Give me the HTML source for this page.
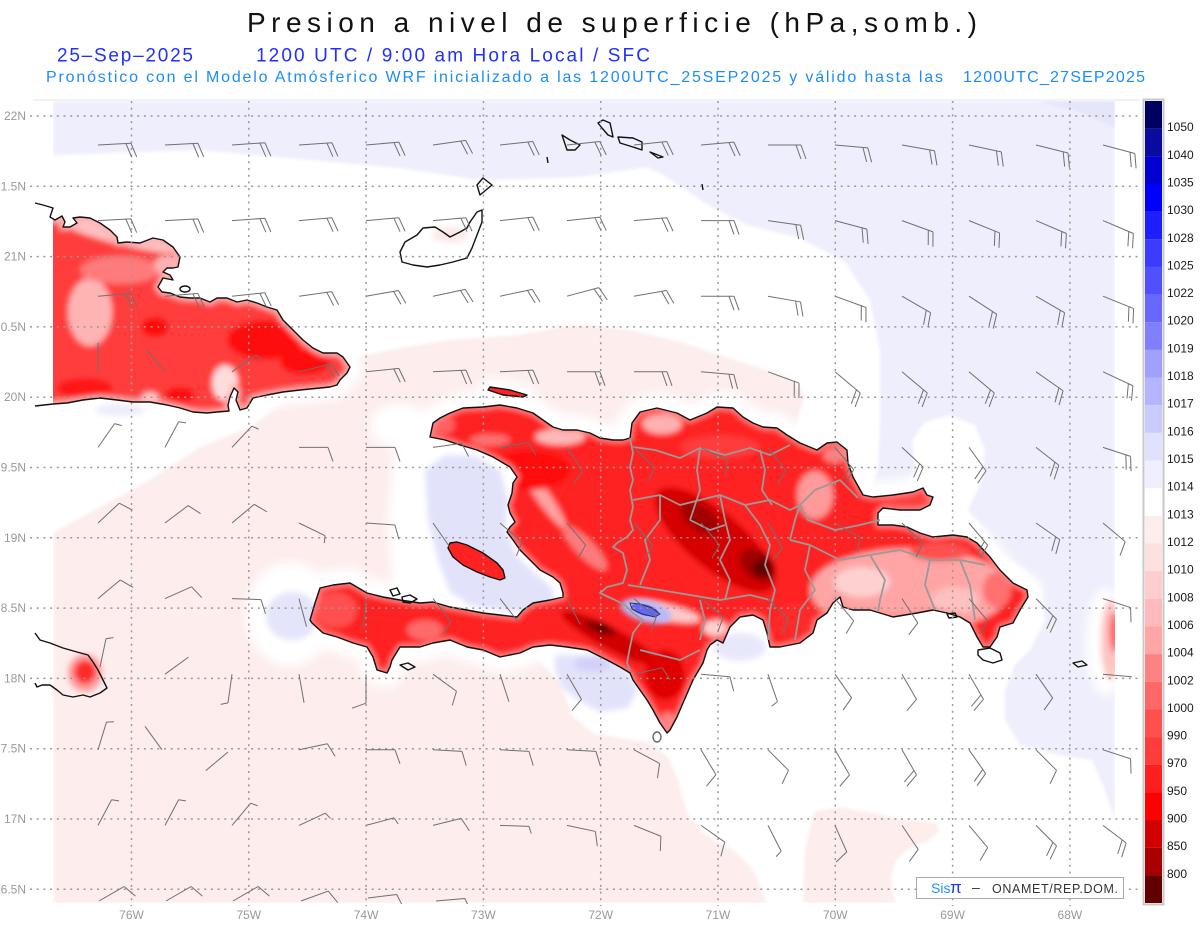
<!DOCTYPE html>
<html><head><meta charset="utf-8"><style>html,body{margin:0;padding:0;background:#fff}svg{display:block}</style></head>
<body>
<svg width="1200" height="927" viewBox="0 0 1200 927" xmlns="http://www.w3.org/2000/svg" xmlns:xlink="http://www.w3.org/1999/xlink" font-family="'Liberation Sans', sans-serif">
<defs>
<clipPath id="dc"><rect x="53" y="101" width="1062" height="802"/></clipPath>
<clipPath id="bc"><rect x="53" y="101" width="1092" height="803"/></clipPath>
<filter id="f1" filterUnits="userSpaceOnUse" x="0" y="0" width="1200" height="927"><feGaussianBlur stdDeviation="1.5"/></filter>
<filter id="f3" filterUnits="userSpaceOnUse" x="0" y="0" width="1200" height="927"><feGaussianBlur stdDeviation="3"/></filter>
<filter id="f5" filterUnits="userSpaceOnUse" x="0" y="0" width="1200" height="927"><feGaussianBlur stdDeviation="5"/></filter>
<path id="hisp" d="M430,437 L433,423 440,418 450,413 463,408 483,407 500,405 517,408 533,413 543,420 553,427 563,430 577,430 590,433 600,438 613,440 623,440 630,438 632,423 640,412 657,408 677,413 690,420 707,413 717,407 733,408 743,417 753,423 763,427 777,428 787,435 800,443 817,450 827,443 837,442 847,450 848,463 853,477 863,495 873,497 893,495 913,492 923,488 927,495 933,497 930,505 920,510 900,510 883,508 878,513 878,525 893,525 907,527 920,533 933,537 953,535 967,537 977,543 990,557 1000,570 1013,583 1027,590 1028,597 1020,610 1013,623 1000,627 997,637 990,647 983,647 977,637 970,623 960,617 947,613 933,610 917,613 893,617 880,613 870,610 853,610 843,607 840,597 833,603 827,613 817,620 813,633 800,643 780,647 770,647 767,633 763,620 753,615 740,617 730,627 723,643 717,640 710,645 707,650 703,663 693,680 683,703 677,717 670,730 667,733 660,723 653,710 647,700 640,690 633,680 630,673 620,667 607,660 587,650 567,647 550,645 533,647 520,653 500,657 483,650 467,647 450,640 433,643 420,647 407,647 400,647 392,660 390,667 387,673 377,670 373,657 367,647 353,643 337,637 323,633 312,623 310,620 315,603 320,588 333,585 350,583 367,593 383,597 400,600 420,603 433,602 450,607 467,610 483,613 500,615 517,617 523,610 533,603 550,600 563,597 563,593 560,583 553,577 540,570 530,560 520,550 513,540 507,532 510,527 515,522 510,513 508,505 512,493 513,483 517,477 510,467 493,457 477,450 460,445 445,440 Z"/>
<path id="gon" d="M450,543 L457,542 467,545 483,553 497,563 503,570 505,578 500,580 490,577 477,572 463,565 453,557 448,548 Z"/>
<path id="tor" d="M488,390 L490,387 510,390 527,395 523,397 503,395 Z"/>
<path id="cubaF" d="M30,203 L35,203 43,205 53,208 50,217 55,220 62,216 65,222 63,227 70,227 77,223 73,218 80,217 90,218 100,223 110,230 117,237 118,243 127,242 140,243 153,238 163,240 173,247 180,257 178,267 173,268 167,268 163,272 170,275 173,280 163,278 158,287 162,292 170,293 180,297 190,298 200,298 210,302 217,298 227,298 237,302 247,300 257,303 267,307 277,310 283,320 293,330 303,340 313,348 323,353 337,353 343,357 350,367 347,373 340,380 337,385 330,387 320,388 300,390 283,392 267,395 253,398 247,408 240,410 236,400 238,392 234,388 230,397 228,405 229,411 217,412 207,413 193,412 180,408 167,405 150,402 133,402 117,400 100,398 83,400 67,403 53,404 35,406 30,406 Z"/>
<path id="cubaS" d="M35,203 L43,205 53,208 50,217 55,220 62,216 65,222 63,227 70,227 77,223 73,218 80,217 90,218 100,223 110,230 117,237 118,243 127,242 140,243 153,238 163,240 173,247 180,257 178,267 173,268 167,268 163,272 170,275 173,280 163,278 158,287 162,292 170,293 180,297 190,298 200,298 210,302 217,298 227,298 237,302 247,300 257,303 267,307 277,310 283,320 293,330 303,340 313,348 323,353 337,353 343,357 350,367 347,373 340,380 337,385 330,387 320,388 300,390 283,392 267,395 253,398 247,408 240,410 236,400 238,392 234,388 230,397 228,405 229,411 217,412 207,413 193,412 180,408 167,405 150,402 133,402 117,400 100,398 83,400 67,403 53,404 35,406"/>
<clipPath id="hc"><use xlink:href="#hisp"/><use xlink:href="#gon"/><use xlink:href="#tor"/></clipPath>
<clipPath id="cc"><use xlink:href="#cubaF"/></clipPath>
<g id="L2" fill="none"><path d="M0,0H33M33,0l5,14M28,0l5,14"/></g>
<g id="S1" fill="none"><path d="M0,0H29M29,0l5,14"/></g>
<g id="S2" fill="none"><path d="M0,0H29M29,0l5,14M24,0l5,14"/></g>
<g id="SH" fill="none"><path d="M0,0H29M29,0l2.5,7"/></g>
<g id="S0" fill="none"><path d="M0,0H29"/></g>
</defs>

<rect width="1200" height="927" fill="#fff"/>

<!-- DATA FIELD -->
<g clip-path="url(#dc)">
<rect x="53" y="101" width="1062" height="802" fill="#fff"/>
<path filter="url(#f1)" fill="#eeeefc" d="M53,101 L1115,101 1115,820 1105,790 1092,760 1060,755 1020,745 1005,720 1005,690 1015,665 1030,650 1045,620 1040,590 1025,570 1000,555 985,530 968,510 982,480 985,450 975,425 950,415 925,422 912,440 915,470 905,490 870,488 878,470 880,420 880,350 870,300 845,262 800,238 747,225 713,208 663,175 647,167 580,177 480,180 400,168 333,162 200,150 53,155 Z"/>
<path filter="url(#f1)" fill="#e6e6fb" d="M1035,101 L1115,101 1115,128 1080,112 Z"/>
<path filter="url(#f1)" fill="#fdeded" d="M53,903 L53,533 100,507 150,480 200,447 250,427 290,397 330,370 360,356 400,348 450,340 520,335 560,327 590,325 630,330 680,342 720,355 760,368 790,378 805,395 790,445 700,500 600,540 575,610 537,658 560,683 573,717 593,733 620,738 653,743 670,760 680,787 687,813 703,833 737,853 753,870 767,903 Z"/>
<path filter="url(#f1)" fill="#fdeded" d="M803,903 L805,850 814,812 837,807 868,812 906,820 937,823 939,832 929,840 906,850 895,863 891,877 895,903 Z"/>

<!-- white halos -->
<g filter="url(#f5)" fill="#fff" stroke="#fff" stroke-linejoin="round">
<use xlink:href="#hisp" stroke-width="30"/>
<use xlink:href="#gon" stroke-width="22"/>
<use xlink:href="#tor" stroke-width="18"/>
<use xlink:href="#cubaF" stroke-width="26"/>
<ellipse cx="400" cy="426" rx="30" ry="22" stroke="none"/>
<ellipse cx="290" cy="614" rx="44" ry="52" stroke="none"/>
<path stroke="none" d="M395,445 L430,438 470,446 500,458 515,500 520,548 560,582 575,605 530,628 470,624 420,617 393,590 388,520 Z"/>
<ellipse cx="1106" cy="642" rx="20" ry="54" stroke="none"/>
</g>
<!-- pale blue patches -->
<g filter="url(#f3)">
<path fill="#e2e2fb" d="M425,470 L445,455 475,456 500,470 508,500 505,530 518,558 552,588 556,606 520,612 472,606 450,592 438,560 428,520 Z"/>
<path fill="#e2e2fb" d="M555,655 L600,655 625,668 638,690 628,708 600,712 578,700 562,688 555,670 Z"/>
<ellipse cx="592" cy="664" rx="18" ry="8" fill="#d2d2f8"/>
<ellipse cx="292" cy="616" rx="26" ry="24" fill="#e4e4fb"/>
<ellipse cx="120" cy="410" rx="25" ry="6" fill="#ececfc"/>
<ellipse cx="740" cy="647" rx="26" ry="14" fill="#e8e8fb"/>
<ellipse cx="682" cy="620" rx="26" ry="9" fill="#dedefb"/>
</g>
<!-- right edge blob -->
<g filter="url(#f3)">
<ellipse cx="1111" cy="640" rx="10" ry="40" fill="#ffc4c4"/>
<ellipse cx="1114" cy="632" rx="5" ry="20" fill="#ff6a6a"/>
</g>

<!-- Hispaniola fill -->
<g clip-path="url(#hc)"><g filter="url(#f3)">
<rect x="300" y="380" width="740" height="370" fill="#ff2424"/>
<ellipse cx="440" cy="425" rx="15" ry="10" fill="#ff6060"/>
<ellipse cx="560" cy="437" rx="25" ry="8" fill="#ffb8b8"/>
<ellipse cx="490" cy="440" rx="20" ry="6" fill="#ff7070"/>
<ellipse cx="540" cy="492" rx="45" ry="7" transform="rotate(55 540 492)" fill="#ffa0a0"/>
<ellipse cx="585" cy="548" rx="30" ry="9" transform="rotate(45 585 548)" fill="#ff7a7a"/>
<ellipse cx="335" cy="610" rx="22" ry="18" fill="#ff5050"/>
<ellipse cx="425" cy="630" rx="18" ry="10" fill="#ff6a6a"/>
<ellipse cx="530" cy="470" rx="40" ry="20" fill="#ff1010"/>
<ellipse cx="610" cy="638" rx="55" ry="11" transform="rotate(28 610 638)" fill="#d00000"/>
<ellipse cx="600" cy="628" rx="16" ry="6" transform="rotate(20 600 628)" fill="#8a0000"/>
<ellipse cx="603" cy="628" rx="6" ry="3.5" fill="#5a0000"/>
<ellipse cx="665" cy="675" rx="20" ry="25" fill="#e00000"/>
<ellipse cx="668" cy="722" rx="8" ry="10" fill="#ff8080"/>
<ellipse cx="662" cy="424" rx="20" ry="10" fill="#ffb0b0"/>
<ellipse cx="720" cy="447" rx="40" ry="12" fill="#ff3a3a"/>
<ellipse cx="715" cy="540" rx="75" ry="28" transform="rotate(40 715 540)" fill="#d60000"/>
<ellipse cx="700" cy="518" rx="22" ry="12" transform="rotate(35 700 518)" fill="#a00000"/>
<ellipse cx="758" cy="565" rx="20" ry="14" transform="rotate(40 758 565)" fill="#a00000"/>
<ellipse cx="762" cy="568" rx="9" ry="9" fill="#600000"/>
<ellipse cx="665" cy="612" rx="36" ry="8" transform="rotate(12 665 612)" fill="#ffc8c8"/>
<ellipse cx="715" cy="628" rx="12" ry="8" fill="#ffd0d0"/>
<ellipse cx="815" cy="495" rx="18" ry="24" fill="#ff9a9a"/>
<ellipse cx="835" cy="455" rx="12" ry="8" fill="#ff8080"/>
<ellipse cx="910" cy="590" rx="100" ry="42" fill="#ffa5a5"/>
<ellipse cx="862" cy="582" rx="28" ry="15" fill="#ffd0d0"/>
<ellipse cx="955" cy="600" rx="24" ry="13" fill="#ffc0c0"/>
<ellipse cx="940" cy="552" rx="30" ry="9" fill="#ff5050"/>
<ellipse cx="997" cy="590" rx="14" ry="18" fill="#ff7070"/>
<ellipse cx="905" cy="502" rx="25" ry="8" fill="#ff4040"/>
<ellipse cx="800" cy="622" rx="25" ry="20" fill="#ff2a2a"/>
<use xlink:href="#hisp" fill="none" stroke="#ff9090" stroke-width="4"/>
</g></g>
<!-- Cuba fill -->
<g clip-path="url(#cc)"><g filter="url(#f3)">
<rect x="30" y="200" width="330" height="220" fill="#ff3c3c"/>
<ellipse cx="115" cy="232" rx="70" ry="11" transform="rotate(15 115 232)" fill="#ffc0c0"/>
<ellipse cx="90" cy="312" rx="22" ry="34" fill="#ffb4b4"/>
<ellipse cx="120" cy="270" rx="40" ry="14" fill="#ff7a7a"/>
<ellipse cx="168" cy="265" rx="14" ry="10" fill="#ffb0b0"/>
<ellipse cx="225" cy="383" rx="13" ry="18" fill="#ffdcdc"/>
<ellipse cx="155" cy="327" rx="14" ry="10" fill="#ff1010"/>
<ellipse cx="265" cy="340" rx="38" ry="20" fill="#ff1010"/>
<ellipse cx="305" cy="362" rx="25" ry="13" fill="#ff0a0a"/>
<ellipse cx="85" cy="388" rx="28" ry="10" fill="#ff1414"/>
<ellipse cx="180" cy="395" rx="15" ry="8" fill="#ff1010"/>
<ellipse cx="150" cy="398" rx="9" ry="6" fill="#ffc8c8"/>
<use xlink:href="#cubaS" fill="none" stroke="#ffb0b0" stroke-width="6"/>
</g></g>
<!-- Jamaica blob -->
<g filter="url(#f3)">
<ellipse cx="85" cy="673" rx="17" ry="19" fill="#ff9c9c"/>
<ellipse cx="85" cy="672" rx="11" ry="12" fill="#ff2a2a"/>
<ellipse cx="450" cy="235" rx="18" ry="8" fill="#fde8e8"/>
</g>
<!-- lake -->
<ellipse cx="646" cy="611" rx="26" ry="11" transform="rotate(15 646 611)" fill="#b8b8fb" filter="url(#f3)"/>
<ellipse cx="645" cy="610" rx="14" ry="5.5" transform="rotate(15 645 610)" fill="#6464ff"/>
</g>

<!-- coastlines -->
<g fill="none" stroke="#111" stroke-width="1.4" stroke-linejoin="round">
<use xlink:href="#hisp"/>
<use xlink:href="#gon"/>
<use xlink:href="#tor"/>
<use xlink:href="#cubaS"/>
<ellipse cx="185" cy="289" rx="5" ry="3"/>
<path d="M35,633 L40,640 50,643 63,648 77,652 88,655 93,662 98,670 103,680 107,688 100,693 90,697 83,695 73,697 63,695 57,690 50,685 42,685 37,687 35,683"/>
<path d="M402,262 L400,252 405,242 417,235 423,228 435,227 443,232 450,237 460,232 467,228 470,222 477,212 482,210 482,222 477,235 472,248 467,258 453,262 440,265 427,267 413,265 Z"/>
<path d="M477,185 L483,178 492,185 480,195 Z"/>
<path d="M562,135 L567,150 575,150 580,145 570,140 Z"/>
<path d="M598,123 L603,120 610,123 612,132 613,137 608,135 602,128 Z"/>
<path d="M618,137 L633,138 642,142 642,150 633,147 620,143 Z"/>
<path d="M650,152 L663,157 658,158 Z"/>
<path d="M547,157 L548,163"/><path d="M702,184 L703,190"/>
<path d="M978,650 L990,648 1000,653 1002,660 993,663 983,660 978,655 Z"/>
<path d="M1073,663 L1082,661 1087,665 1078,667 Z"/>
<path d="M390,590 L397,588 400,594 393,596 Z"/>
<path d="M402,597 L410,595 417,599 410,603 403,602 Z"/>
<path d="M400,665 L408,663 415,667 408,670 Z"/>
<path d="M947,614 L955,613 957,617 949,618 Z"/>
<path d="M630,603 L640,604 652,608 660,614 655,617 642,614 632,609 Z" stroke="#333" stroke-width="1"/>
</g>
<ellipse cx="657" cy="737" rx="4" ry="5" fill="none" stroke="#666" stroke-width="1.4"/>

<!-- borders -->
<g fill="none" stroke="#9a9a9a" stroke-width="1.8" stroke-linejoin="round">
<path d="M630,438 L633,453 630,467 633,480 630,490 633,507 630,520 633,530 627,537 617,543 613,547 623,553 627,570 623,583 607,587 600,593 615,600 625,605 633,613 643,620 633,633 630,647 627,663 630,670"/>
<path d="M633,447 L655,450 680,458 700,448 725,455 750,448 770,455 790,445"/>
<path d="M700,448 L697,470 700,490 695,505 690,520"/>
<path d="M760,450 L765,470 762,490 772,505"/>
<path d="M633,500 L660,495 680,505 700,500 720,495 745,505 770,500 790,510 800,505"/>
<path d="M660,495 L660,520 645,540 650,560 640,585"/>
<path d="M720,495 L725,520 730,540 720,560 730,580 725,600"/>
<path d="M690,520 L710,530 725,525"/>
<path d="M745,505 L760,525 770,545 765,565 775,590 770,610 768,640"/>
<path d="M628,585 L660,590 690,595 720,600 750,595 770,600"/>
<path d="M800,505 L808,520 835,530 860,525 880,520"/>
<path d="M800,505 L815,490 840,480 858,498"/>
<path d="M790,540 L810,545 840,560 870,555 900,550 930,560 960,560 985,565"/>
<path d="M810,545 L805,570 815,590 800,610 795,640"/>
<path d="M870,555 L885,580 880,600 878,612"/>
<path d="M930,560 L925,585 935,610"/>
<path d="M960,560 L970,585 975,620"/>
<path d="M790,540 L795,520 800,505"/>
<path d="M640,650 L660,655 680,660 700,650"/>
<path d="M700,600 L705,620 700,640"/>
</g>

<!-- grid -->
<line x1="33" y1="100" x2="1140" y2="100" stroke="#e6e6e6" stroke-width="1"/>
<path fill="none" stroke="#999" stroke-width="1.5" stroke-dasharray="2 4.7" d="M30,116H1140M30,186.3H1140M30,256.6H1140M30,326.9H1140M30,397.2H1140M30,467.5H1140M30,537.8H1140M30,608.1H1140M30,678.4H1140M30,748.7H1140M30,819H1140M30,889.3H1140"/>
<path fill="none" stroke="#999" stroke-width="1.5" stroke-dasharray="2 4.7" d="M131.5,101V906M248.8,101V906M366.1,101V906M483.4,101V906M600.7,101V906M718,101V906M835.3,101V906M952.6,101V906M1069.9,101V906"/>

<!-- wind barbs -->
<g clip-path="url(#bc)" stroke="#707070" stroke-width="1" fill="none">
<use xlink:href="#L2" transform="translate(98 145)rotate(-3)"/><use xlink:href="#L2" transform="translate(165 145)rotate(-3)"/><use xlink:href="#L2" transform="translate(232 145)rotate(-4)"/><use xlink:href="#L2" transform="translate(299 145)rotate(-4)"/><use xlink:href="#L2" transform="translate(366 145)rotate(-5)"/><use xlink:href="#L2" transform="translate(433 145)rotate(-8)"/><use xlink:href="#L2" transform="translate(500 145)rotate(-6)"/><use xlink:href="#L2" transform="translate(567 145)rotate(-6)"/><use xlink:href="#L2" transform="translate(634 145)rotate(-6)"/><use xlink:href="#L2" transform="translate(701 145)rotate(-5)"/><use xlink:href="#L2" transform="translate(768 145)rotate(0)"/><use xlink:href="#L2" transform="translate(835 145)rotate(5)"/><use xlink:href="#L2" transform="translate(902 145)rotate(10)"/><use xlink:href="#L2" transform="translate(969 145)rotate(12)"/><use xlink:href="#L2" transform="translate(1036 145)rotate(14)"/><use xlink:href="#L2" transform="translate(1103 145)rotate(15)"/>
<use xlink:href="#L2" transform="translate(98 220.6)rotate(-3)"/><use xlink:href="#L2" transform="translate(165 220.6)rotate(-3)"/><use xlink:href="#L2" transform="translate(232 220.6)rotate(-4)"/><use xlink:href="#L2" transform="translate(299 220.6)rotate(-5)"/><use xlink:href="#L2" transform="translate(366 220.6)rotate(-5)"/><use xlink:href="#L2" transform="translate(433 220.6)rotate(-5)"/><use xlink:href="#L2" transform="translate(500 220.6)rotate(-6)"/><use xlink:href="#L2" transform="translate(567 220.6)rotate(-6)"/><use xlink:href="#L2" transform="translate(634 220.6)rotate(-5)"/><use xlink:href="#L2" transform="translate(701 220.6)rotate(0)"/><use xlink:href="#L2" transform="translate(768 220.6)rotate(8)"/><use xlink:href="#L2" transform="translate(835 220.6)rotate(15)"/><use xlink:href="#L2" transform="translate(902 220.6)rotate(20)"/><use xlink:href="#L2" transform="translate(969 220.6)rotate(22)"/><use xlink:href="#L2" transform="translate(1036 220.6)rotate(23)"/><use xlink:href="#L2" transform="translate(1103 220.6)rotate(23)"/>
<use xlink:href="#L2" transform="translate(98 296.2)rotate(-5)"/><use xlink:href="#L2" transform="translate(165 296.2)rotate(-5)"/><use xlink:href="#L2" transform="translate(232 296.2)rotate(-6)"/><use xlink:href="#L2" transform="translate(299 296.2)rotate(-8)"/><use xlink:href="#L2" transform="translate(366 296.2)rotate(-10)"/><use xlink:href="#L2" transform="translate(433 296.2)rotate(-12)"/><use xlink:href="#L2" transform="translate(500 296.2)rotate(-12)"/><use xlink:href="#L2" transform="translate(567 296.2)rotate(-15)"/><use xlink:href="#L2" transform="translate(634 296.2)rotate(-10)"/><use xlink:href="#L2" transform="translate(701 296.2)rotate(0)"/><use xlink:href="#L2" transform="translate(768 296.2)rotate(10)"/><use xlink:href="#L2" transform="translate(835 296.2)rotate(20)"/><use xlink:href="#L2" transform="translate(902 296.2)rotate(30)"/><use xlink:href="#L2" transform="translate(969 296.2)rotate(33)"/><use xlink:href="#L2" transform="translate(1036 296.2)rotate(30)"/><use xlink:href="#L2" transform="translate(1103 296.2)rotate(22)"/>
<use xlink:href="#S0" transform="translate(98 371.8)rotate(-90)"/><use xlink:href="#S0" transform="translate(165 371.8)rotate(-130)"/><use xlink:href="#SH" transform="translate(232 371.8)rotate(-35)"/><use xlink:href="#L2" transform="translate(299 371.8)rotate(-14)"/><use xlink:href="#L2" transform="translate(366 371.8)rotate(-6)"/><use xlink:href="#L2" transform="translate(433 371.8)rotate(-3)"/><use xlink:href="#L2" transform="translate(500 371.8)rotate(-3)"/><use xlink:href="#L2" transform="translate(567 371.8)rotate(0)"/><use xlink:href="#L2" transform="translate(634 371.8)rotate(0)"/><use xlink:href="#L2" transform="translate(701 371.8)rotate(5)"/><use xlink:href="#L2" transform="translate(768 371.8)rotate(20)"/><use xlink:href="#L2" transform="translate(835 371.8)rotate(40)"/><use xlink:href="#L2" transform="translate(902 371.8)rotate(40)"/><use xlink:href="#L2" transform="translate(969 371.8)rotate(40)"/><use xlink:href="#L2" transform="translate(1036 371.8)rotate(35)"/><use xlink:href="#L2" transform="translate(1103 371.8)rotate(25)"/>
<use xlink:href="#SH" transform="translate(98 447.4)rotate(-55)"/><use xlink:href="#SH" transform="translate(165 447.4)rotate(-62)"/><use xlink:href="#SH" transform="translate(232 447.4)rotate(-47)"/><use xlink:href="#S1" transform="translate(299 447.4)rotate(0)"/><use xlink:href="#S1" transform="translate(366 447.4)rotate(0)"/><use xlink:href="#S1" transform="translate(433 447.4)rotate(-8)"/><use xlink:href="#S1" transform="translate(500 447.4)rotate(-10)"/><use xlink:href="#S1" transform="translate(567 447.4)rotate(57)"/><use xlink:href="#S1" transform="translate(634 447.4)rotate(45)"/><use xlink:href="#S1" transform="translate(701 447.4)rotate(26)"/><use xlink:href="#S1" transform="translate(768 447.4)rotate(52)"/><use xlink:href="#S2" transform="translate(835 447.4)rotate(50)"/><use xlink:href="#S2" transform="translate(902 447.4)rotate(43)"/><use xlink:href="#S2" transform="translate(969 447.4)rotate(54)"/><use xlink:href="#S2" transform="translate(1036 447.4)rotate(38)"/><use xlink:href="#S2" transform="translate(1103 447.4)rotate(18)"/>
<use xlink:href="#S1" transform="translate(98 523)rotate(-43)"/><use xlink:href="#S1" transform="translate(165 523)rotate(-37)"/><use xlink:href="#S1" transform="translate(232 523)rotate(-40)"/><use xlink:href="#SH" transform="translate(299 523)rotate(26)"/><use xlink:href="#S1" transform="translate(366 523)rotate(4)"/><use xlink:href="#S0" transform="translate(433 523)rotate(55)"/><use xlink:href="#S1" transform="translate(500 523)rotate(41)"/><use xlink:href="#S1" transform="translate(567 523)rotate(50)"/><use xlink:href="#S1" transform="translate(634 523)rotate(50)"/><use xlink:href="#S1" transform="translate(701 523)rotate(50)"/><use xlink:href="#S1" transform="translate(768 523)rotate(60)"/><use xlink:href="#S1" transform="translate(835 523)rotate(30)"/><use xlink:href="#S1" transform="translate(902 523)rotate(45)"/><use xlink:href="#S2" transform="translate(969 523)rotate(50)"/><use xlink:href="#S2" transform="translate(1036 523)rotate(35)"/><use xlink:href="#S1" transform="translate(1103 523)rotate(40)"/>
<use xlink:href="#S1" transform="translate(98 598.6)rotate(-40)"/><use xlink:href="#S1" transform="translate(165 598.6)rotate(-24)"/><use xlink:href="#S1" transform="translate(232 598.6)rotate(2)"/><use xlink:href="#S0" transform="translate(299 598.6)rotate(75)"/><use xlink:href="#S0" transform="translate(366 598.6)rotate(95)"/><use xlink:href="#S1" transform="translate(433 598.6)rotate(52)"/><use xlink:href="#S0" transform="translate(500 598.6)rotate(52)"/><use xlink:href="#S0" transform="translate(567 598.6)rotate(63)"/><use xlink:href="#S1" transform="translate(634 598.6)rotate(40)"/><use xlink:href="#S1" transform="translate(701 598.6)rotate(40)"/><use xlink:href="#S1" transform="translate(768 598.6)rotate(45)"/><use xlink:href="#S1" transform="translate(835 598.6)rotate(50)"/><use xlink:href="#S1" transform="translate(902 598.6)rotate(57)"/><use xlink:href="#S1" transform="translate(969 598.6)rotate(50)"/><use xlink:href="#S2" transform="translate(1036 598.6)rotate(45)"/><use xlink:href="#S1" transform="translate(1103 598.6)rotate(18)"/>
<use xlink:href="#SH" transform="translate(100 667)rotate(-78)"/><use xlink:href="#S0" transform="translate(165 674.2)rotate(-36)"/><use xlink:href="#SH" transform="translate(232 674.2)rotate(98)"/><use xlink:href="#S0" transform="translate(299 674.2)rotate(80)"/><use xlink:href="#S1" transform="translate(366 674.2)rotate(90)"/><use xlink:href="#S1" transform="translate(433 674.2)rotate(36)"/><use xlink:href="#S0" transform="translate(500 674.2)rotate(72)"/><use xlink:href="#S1" transform="translate(567 674.2)rotate(60)"/><use xlink:href="#S1" transform="translate(634 674.2)rotate(-13)"/><use xlink:href="#S1" transform="translate(701 674.2)rotate(5)"/><use xlink:href="#SH" transform="translate(768 674.2)rotate(71)"/><use xlink:href="#S1" transform="translate(835 674.2)rotate(55)"/><use xlink:href="#S1" transform="translate(902 674.2)rotate(60)"/><use xlink:href="#S2" transform="translate(969 674.2)rotate(60)"/><use xlink:href="#S1" transform="translate(1036 674.2)rotate(55)"/><use xlink:href="#S0" transform="translate(1103 674.2)rotate(5)"/>
<use xlink:href="#SH" transform="translate(98 749.8)rotate(-73)"/><use xlink:href="#S0" transform="translate(162 749.8)rotate(-126)"/><use xlink:href="#S0" transform="translate(228 752)rotate(140)"/><use xlink:href="#S1" transform="translate(299 749.8)rotate(-12)"/><use xlink:href="#S1" transform="translate(366 749.8)rotate(0)"/><use xlink:href="#S1" transform="translate(433 749.8)rotate(3)"/><use xlink:href="#S1" transform="translate(500 749.8)rotate(3)"/><use xlink:href="#S1" transform="translate(567 749.8)rotate(3)"/><use xlink:href="#S1" transform="translate(634 749.8)rotate(28)"/><use xlink:href="#S1" transform="translate(701 749.8)rotate(59)"/><use xlink:href="#S1" transform="translate(768 749.8)rotate(45)"/><use xlink:href="#S1" transform="translate(835 749.8)rotate(60)"/><use xlink:href="#S2" transform="translate(902 749.8)rotate(60)"/><use xlink:href="#S2" transform="translate(969 749.8)rotate(55)"/><use xlink:href="#S1" transform="translate(1036 749.8)rotate(45)"/><use xlink:href="#S1" transform="translate(1103 749.8)rotate(18)"/>
<use xlink:href="#SH" transform="translate(98 825.4)rotate(-62)"/><use xlink:href="#SH" transform="translate(165 825.4)rotate(-62)"/><use xlink:href="#SH" transform="translate(232 825.4)rotate(-50)"/><use xlink:href="#SH" transform="translate(299 825.4)rotate(-25)"/><use xlink:href="#SH" transform="translate(366 825.4)rotate(-15)"/><use xlink:href="#S1" transform="translate(433 825.4)rotate(-14)"/><use xlink:href="#SH" transform="translate(500 825.4)rotate(2)"/><use xlink:href="#S1" transform="translate(567 825.4)rotate(12)"/><use xlink:href="#S1" transform="translate(634 825.4)rotate(22)"/><use xlink:href="#S1" transform="translate(701 825.4)rotate(35)"/><use xlink:href="#SH" transform="translate(768 825.4)rotate(63)"/><use xlink:href="#S1" transform="translate(835 825.4)rotate(66)"/><use xlink:href="#S1" transform="translate(902 825.4)rotate(56)"/><use xlink:href="#S1" transform="translate(969 825.4)rotate(50)"/><use xlink:href="#S2" transform="translate(1036 825.4)rotate(45)"/><use xlink:href="#S2" transform="translate(1103 825.4)rotate(37)"/>
<use xlink:href="#S1" transform="translate(99 901)rotate(-30)"/><use xlink:href="#S1" transform="translate(166 901)rotate(-30)"/><use xlink:href="#S1" transform="translate(233 901)rotate(-30)"/><use xlink:href="#S1" transform="translate(301 901)rotate(-20)"/><use xlink:href="#S1" transform="translate(368 898)rotate(-7)"/><use xlink:href="#S1" transform="translate(436 901)rotate(-5)"/>
</g>

<!-- axis labels -->
<g font-size="12" fill="#999" text-anchor="end">
<text x="26" y="120">22N</text><text x="26" y="190.3">1.5N</text><text x="26" y="260.6">21N</text><text x="26" y="330.9">0.5N</text><text x="26" y="401.2">20N</text><text x="26" y="471.5">9.5N</text><text x="26" y="541.8">19N</text><text x="26" y="612.1">8.5N</text><text x="26" y="682.4">18N</text><text x="26" y="752.7">7.5N</text><text x="26" y="823">17N</text><text x="26" y="893.3">6.5N</text>
</g>
<g font-size="12" fill="#999" text-anchor="middle">
<text x="131.5" y="919">76W</text><text x="248.8" y="919">75W</text><text x="366.1" y="919">74W</text><text x="483.4" y="919">73W</text><text x="600.7" y="919">72W</text><text x="718" y="919">71W</text><text x="835.3" y="919">70W</text><text x="952.6" y="919">69W</text><text x="1069.9" y="919">68W</text>
</g>

<!-- colorbar -->
<rect x="1143.5" y="99.5" width="20" height="805" fill="#fff" stroke="#c8c8c8" stroke-width="2"/>
<g>
<rect x="1145" y="101" width="17" height="27.7" fill="#000060"/>
<rect x="1145" y="128.66" width="17" height="27.7" fill="#0a0aa0"/>
<rect x="1145" y="156.31" width="17" height="27.7" fill="#0000d2"/>
<rect x="1145" y="183.97" width="17" height="27.7" fill="#0000ff"/>
<rect x="1145" y="211.62" width="17" height="27.7" fill="#1e1eff"/>
<rect x="1145" y="239.28" width="17" height="27.7" fill="#3c3cff"/>
<rect x="1145" y="266.93" width="17" height="27.7" fill="#5050ff"/>
<rect x="1145" y="294.59" width="17" height="27.7" fill="#6868ff"/>
<rect x="1145" y="322.24" width="17" height="27.7" fill="#8080ff"/>
<rect x="1145" y="349.9" width="17" height="27.7" fill="#a0a0ff"/>
<rect x="1145" y="377.55" width="17" height="27.7" fill="#b4b4ff"/>
<rect x="1145" y="405.21" width="17" height="27.7" fill="#cacaff"/>
<rect x="1145" y="432.86" width="17" height="27.7" fill="#e0e0ff"/>
<rect x="1145" y="460.52" width="17" height="27.7" fill="#efefff"/>
<rect x="1145" y="488.17" width="17" height="27.7" fill="#ffffff"/>
<rect x="1145" y="515.83" width="17" height="27.7" fill="#fdeeee"/>
<rect x="1145" y="543.48" width="17" height="27.7" fill="#fde0e0"/>
<rect x="1145" y="571.14" width="17" height="27.7" fill="#ffcdcd"/>
<rect x="1145" y="598.79" width="17" height="27.7" fill="#ffbbbb"/>
<rect x="1145" y="626.45" width="17" height="27.7" fill="#ffa6a6"/>
<rect x="1145" y="654.1" width="17" height="27.7" fill="#ff8282"/>
<rect x="1145" y="681.76" width="17" height="27.7" fill="#ff6868"/>
<rect x="1145" y="709.41" width="17" height="27.7" fill="#ff5050"/>
<rect x="1145" y="737.07" width="17" height="27.7" fill="#ff3c3c"/>
<rect x="1145" y="764.72" width="17" height="27.7" fill="#ff1e1e"/>
<rect x="1145" y="792.38" width="17" height="27.7" fill="#ff0000"/>
<rect x="1145" y="820.03" width="17" height="27.7" fill="#d20000"/>
<rect x="1145" y="847.69" width="17" height="27.7" fill="#a80000"/>
<rect x="1145" y="875.34" width="17" height="27.66" fill="#600000"/>
</g>
<g font-size="12" fill="#1a1a1a">
<text x="1167" y="131.2">1050</text><text x="1167" y="158.8">1040</text><text x="1167" y="186.5">1035</text><text x="1167" y="214.1">1030</text><text x="1167" y="241.8">1028</text><text x="1167" y="269.4">1025</text><text x="1167" y="297.1">1022</text><text x="1167" y="324.7">1020</text><text x="1167" y="352.4">1019</text><text x="1167" y="380.1">1018</text><text x="1167" y="407.7">1017</text><text x="1167" y="435.4">1016</text><text x="1167" y="463">1015</text><text x="1167" y="490.7">1014</text><text x="1167" y="518.3">1013</text><text x="1167" y="546">1012</text><text x="1167" y="573.6">1010</text><text x="1167" y="601.3">1008</text><text x="1167" y="629">1006</text><text x="1167" y="656.6">1004</text><text x="1167" y="684.3">1002</text><text x="1167" y="711.9">1000</text><text x="1167" y="739.6">990</text><text x="1167" y="767.2">970</text><text x="1167" y="794.9">950</text><text x="1167" y="822.5">900</text><text x="1167" y="850.2">850</text><text x="1167" y="877.8">800</text>
</g>

<!-- titles -->
<text x="247" y="32" font-size="28" fill="#111" textLength="730" lengthAdjust="spacing">Presion a nivel de superficie (hPa,somb.)</text>
<text x="57" y="61.5" font-size="19" fill="#2030ff" textLength="136" lengthAdjust="spacing">25–Sep–2025</text>
<text x="256" y="61.5" font-size="19" fill="#2030ff" textLength="394" lengthAdjust="spacing">1200 UTC / 9:00 am Hora Local / SFC</text>
<text x="46" y="82" font-size="16" fill="#1a8cff" textLength="897" lengthAdjust="spacing">Pronóstico con el Modelo Atmósferico WRF inicializado a las 1200UTC_25SEP2025 y válido hasta las</text>
<text x="963" y="82" font-size="16" fill="#1a8cff" textLength="182" lengthAdjust="spacing">1200UTC_27SEP2025</text>

<!-- legend box -->
<rect x="916.5" y="877.5" width="207" height="21" fill="#fff" stroke="#aaa" stroke-width="1"/>
<text x="931" y="893" font-size="14" fill="#1e90ff">Sis</text>
<text x="950" y="893" font-size="17" fill="#2233ff">π</text>
<text x="972" y="892" font-size="14" fill="#333">–</text>
<text x="992" y="893" font-size="12.5" fill="#333" textLength="126" lengthAdjust="spacing">ONAMET/REP.DOM.</text>
</svg>
</body></html>
